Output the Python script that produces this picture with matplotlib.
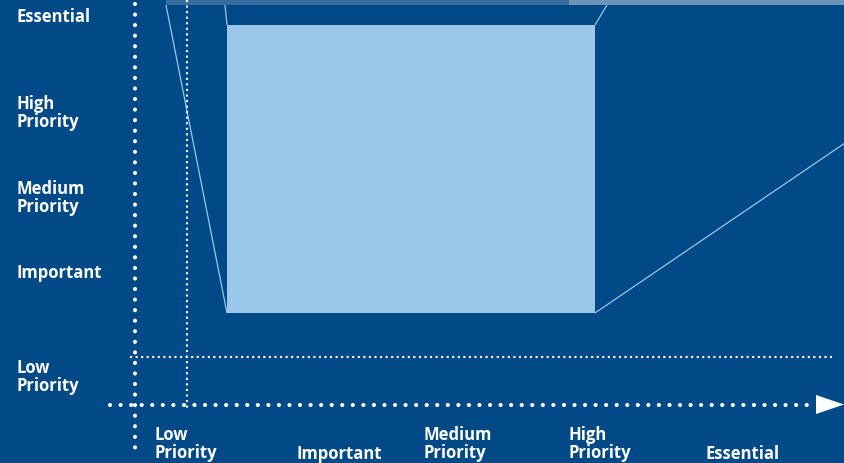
import matplotlib
import matplotlib.pyplot as plt
from matplotlib.patches import Rectangle, Polygon

matplotlib.use("Agg")
plt.rcParams["lines.scale_dashes"] = False

# Chart space is measured in canvas units (0..845 across, 0..463 down)
x_labels = ["Low\nPriority", "Important", "Medium\nPriority", "High\nPriority", "Essential"]
x_label_pos = [155, 297, 424, 569, 706]
y_labels = ["Essential", "High\nPriority", "Medium\nPriority", "Important", "Low\nPriority"]
y_label_pos = [17, 113, 198, 273, 377]

# focus box and its perspective edges
box_x = [227, 595]
box_y = [25, 313]
edge_lines = [
    ([166, 227], [5, 313]),
    ([225, 227], [5, 25]),
    ([607, 595], [5, 25]),
    ([595, 845], [313, 143]),
]
# band along the top edge
band_x = [166, 569, 845]
band_h = 5

axis_x, axis_y = 135.5, 404.5
grid_x, grid_y = 187, 357

BG = "#014a87"
LIGHT = "#9bc8e8"
WHITE = "white"

fig = plt.figure(figsize=(8.45, 4.63), dpi=100, facecolor=BG)
ax = fig.add_axes([0, 0, 1, 1])
ax.set_facecolor(BG)
ax.set_xlim(0, 845)
ax.set_ylim(463, 0)
ax.axis("off")

ax.add_patch(Rectangle((band_x[0], 0), band_x[1] - band_x[0], band_h, color="#376d9e", lw=0))
ax.add_patch(Rectangle((band_x[1], 0), band_x[2] - band_x[1], band_h, color="#6a94b9", lw=0))

ax.add_patch(Rectangle((box_x[0], box_y[0]), box_x[1] - box_x[0], box_y[1] - box_y[0],
                       color=LIGHT, lw=0))
for xs, ys in edge_lines:
    ax.plot(xs, ys, color=LIGHT, lw=0.9, solid_capstyle="butt")

# thin dotted guide lines
thin = dict(color=WHITE, lw=1.5, linestyle=(0, (1.5, 2.5)), dash_capstyle="butt")
ax.plot([grid_x, grid_x], [0, 408], **thin)
ax.plot([130, 832], [grid_y, grid_y], **thin)

# heavy dotted axes
heavy = dict(color=WHITE, lw=3.0, linestyle=(0, (0.05, 7.55)), dash_capstyle="round")
ax.plot([axis_x, axis_x], [4, 456], **heavy)
ax.plot([110, 812], [axis_y, axis_y], **heavy)
ax.add_patch(Polygon([(816, axis_y - 9.5), (844, axis_y), (816, axis_y + 9.5)],
                     closed=True, color=WHITE, lw=0))

font = dict(family="Open Sans", weight="bold", size=12, color=WHITE, linespacing=1.0)
for lab, y in zip(y_labels, y_label_pos):
    ax.text(17, y, lab, ha="left", va="center", **font)
for lab, x in zip(x_labels, x_label_pos):
    y = 444 if "\n" in lab else 454
    ax.text(x, y, lab, ha="left", va="center", **font)

fig.savefig("out.png", dpi=100, facecolor=BG)
